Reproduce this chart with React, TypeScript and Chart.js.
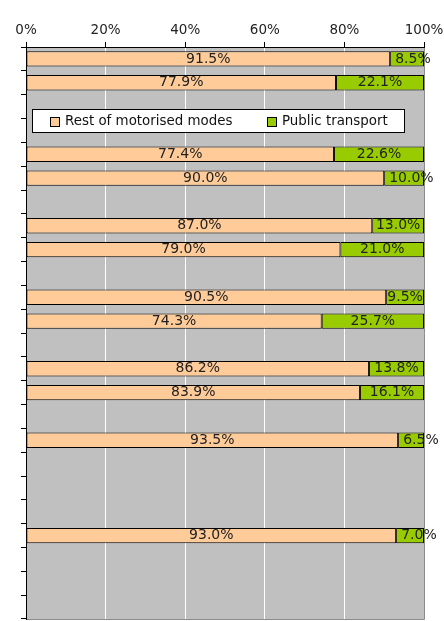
import React, { useEffect, useRef } from "react";
import { Chart, registerables } from "chart.js";

Chart.register(...registerables);

const categories: string[] = [
  "", "", "", "", "", "", "", "", "", "", "", "",
  "", "", "", "", "", "", "", "", "", "", "", "",
];

const restOfMotorised: (number | null)[] = [
  91.5, 77.9, null, null, 77.4, 90.0, null, 87.0, 79.0, null, 90.5, 74.3,
  null, 86.2, 83.9, null, 93.5, null, null, null, 93.0, null, null, null,
];

const publicTransport: (number | null)[] = [
  8.5, 22.1, null, null, 22.6, 10.0, null, 13.0, 21.0, null, 9.5, 25.7,
  null, 13.8, 16.1, null, 6.5, null, null, null, 7.0, null, null, null,
];

const seriesNames = ["Rest of motorised modes", "Public transport"];
const seriesColors = ["#FFCC99", "#99CC00"];
const xTicks = [0, 20, 40, 60, 80, 100];

const FONT = "'DejaVu Sans', Verdana, sans-serif";

const backgroundPlugin = {
  id: "plotBg",
  beforeDraw(chart: any) {
    const { ctx, chartArea } = chart;
    const { left, right, top, bottom } = chartArea;
    ctx.save();
    ctx.fillStyle = "#C0C0C0";
    ctx.fillRect(left, top, right - left, bottom - top);
    ctx.strokeStyle = "#8c8c8c";
    ctx.lineWidth = 1;
    ctx.beginPath();
    ctx.moveTo(Math.round(right) + 0.5, top);
    ctx.lineTo(Math.round(right) + 0.5, Math.round(bottom) + 0.5);
    ctx.lineTo(left, Math.round(bottom) + 0.5);
    ctx.stroke();
    ctx.restore();
  },
};

const labelPlugin = {
  id: "segLabels",
  afterDatasetsDraw(chart: any) {
    const { ctx } = chart;
    ctx.save();
    ctx.font = `14px ${FONT}`;
    ctx.fillStyle = "#222";
    ctx.textBaseline = "middle";
    ctx.textAlign = "center";
    chart.data.datasets.forEach((ds: any, di: number) => {
      const meta = chart.getDatasetMeta(di);
      meta.data.forEach((el: any, i: number) => {
        const v = ds.data[i];
        if (v === null || v === undefined) return;
        const text = v.toFixed(1) + "%";
        const w = ctx.measureText(text).width;
        const x0 = Math.min(el.base, el.x);
        const x1 = Math.max(el.base, el.x);
        let cx = (x0 + x1) / 2;
        if (w > x1 - x0) cx = x0 + 5 + w / 2;
        ctx.fillText(text, cx, el.y);
      });
    });
    ctx.restore();
  },
};

const legendPlugin = {
  id: "boxLegend",
  afterDraw(chart: any) {
    const { ctx, chartArea } = chart;
    const yScale = chart.scales.y;
    const mid = yScale.getPixelForValue(2.5) + 2;
    const h = 23;
    const top = Math.round(mid - h / 2);
    const left = Math.round(chartArea.left) + 6;
    ctx.save();
    ctx.font = `13.4px ${FONT}`;
    const w1 = ctx.measureText(seriesNames[0]).width;
    const w2 = ctx.measureText(seriesNames[1]).width;
    const sw1 = left + 18;
    const tx1 = left + 33;
    const sw2 = Math.round(tx1 + w1 + 35);
    const tx2 = sw2 + 15;
    const right = Math.round(tx2 + w2 + 16);
    ctx.fillStyle = "#ffffff";
    ctx.fillRect(left, top, right - left, h);
    ctx.strokeStyle = "#000";
    ctx.lineWidth = 1;
    ctx.strokeRect(left + 0.5, top + 0.5, right - left, h);
    const sy = Math.round(mid) - 4;
    [sw1, sw2].forEach((sx, i) => {
      ctx.fillStyle = seriesColors[i];
      ctx.fillRect(sx, sy, 9, 9);
      ctx.strokeStyle = "#000";
      ctx.strokeRect(sx + 0.5, sy + 0.5, 9, 9);
    });
    ctx.fillStyle = "#111";
    ctx.textBaseline = "middle";
    ctx.textAlign = "left";
    ctx.fillText(seriesNames[0], tx1, mid + 1);
    ctx.fillText(seriesNames[1], tx2, mid + 1);
    ctx.restore();
  },
};

export default function App() {
  const ref = useRef<HTMLCanvasElement | null>(null);

  useEffect(() => {
    if (!ref.current) return;
    const chart = new Chart(ref.current, {
      type: "bar",
      data: {
        labels: categories,
        datasets: [
          {
            label: seriesNames[0],
            data: restOfMotorised,
            backgroundColor: seriesColors[0],
            borderColor: "#000",
            borderWidth: 1,
            borderSkipped: false,
            barPercentage: 0.64,
            categoryPercentage: 1,
          },
          {
            label: seriesNames[1],
            data: publicTransport,
            backgroundColor: seriesColors[1],
            borderColor: "#000",
            borderWidth: 1,
            borderSkipped: false,
            barPercentage: 0.64,
            categoryPercentage: 1,
          },
        ] as any,
      },
      options: {
        indexAxis: "y",
        responsive: false,
        animation: false,
        layout: { padding: { left: 0, right: 20, top: 0, bottom: 2 } },
        plugins: {
          legend: { display: false },
          tooltip: { enabled: false },
        },
        scales: {
          x: {
            type: "linear",
            position: "top",
            stacked: true,
            min: 0,
            max: 100,
            afterBuildTicks: (s: any) => {
              s.ticks = xTicks.map((v) => ({ value: v }));
            },
            ticks: {
              color: "#222",
              padding: 3,
              font: { family: FONT, size: 13.5 },
              callback: (v: any) => v + "%",
            },
            grid: {
              color: (c: any) =>
                c.tick && (c.tick.value === 0 || c.tick.value === 100)
                  ? "rgba(0,0,0,0)"
                  : "#ffffff",
              tickColor: "#000",
              tickLength: 5,
              lineWidth: 1,
            },
            border: { color: "#000", width: 1 },
            afterFit: (s: any) => {
              s.height = 47;
              s.paddingLeft = 0;
              s.paddingRight = 0;
            },
          },
          y: {
            type: "category",
            stacked: true,
            ticks: { display: false },
            grid: {
              drawOnChartArea: false,
              offset: true,
              tickColor: "#000",
              tickLength: 5,
              color: "#000",
            },
            border: { color: "#000", width: 1 },
            afterFit: (s: any) => {
              s.width = 26;
              s.paddingTop = 0;
              s.paddingBottom = 0;
            },
          },
        } as any,
      },
      plugins: [backgroundPlugin, labelPlugin, legendPlugin],
    });
    return () => chart.destroy();
  }, []);

  return (
    <div style={{ position: "absolute", left: 0, top: 0, width: 444, height: 621 }}>
      <canvas ref={ref} width={444} height={621} />
    </div>
  );
}
